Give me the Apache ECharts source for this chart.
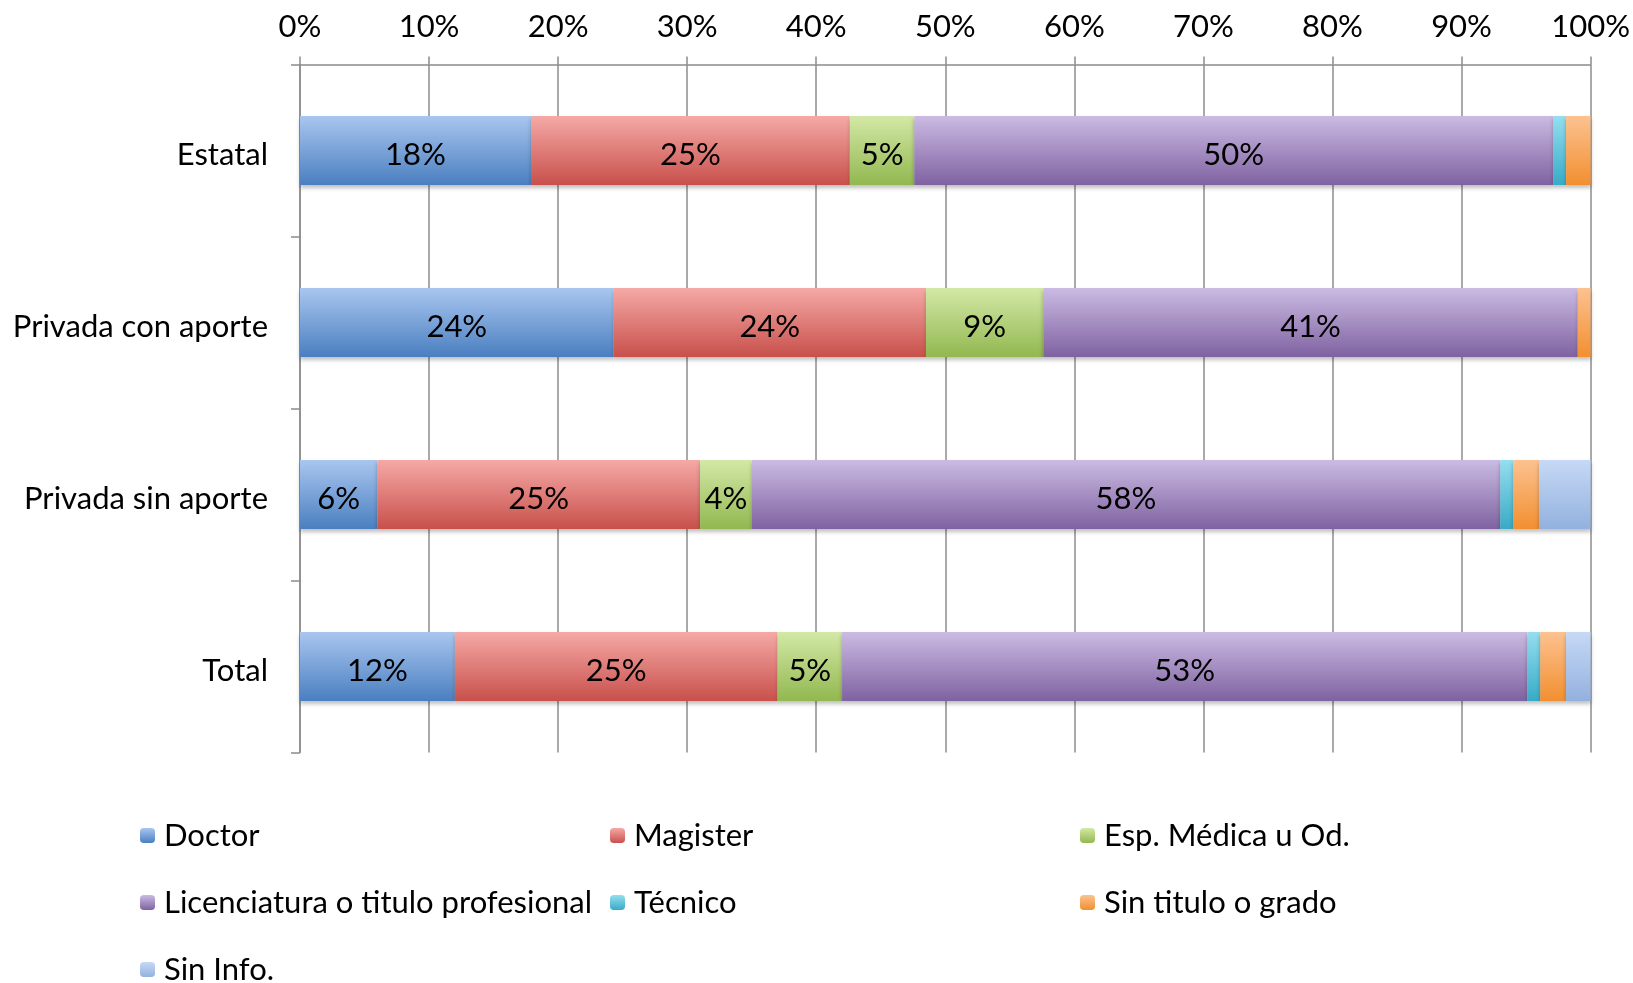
<!DOCTYPE html>
<html>
<head>
<meta charset="utf-8">
<script src="https://cdn.jsdelivr.net/npm/echarts@6/dist/echarts.min.js"></script>
<style>
  html, body { margin: 0; padding: 0; background: #fff; }
  #chart { width: 1633px; height: 983px; }
</style>
</head>
<body>
<div id="chart"></div>
<script>
// categorías (de arriba hacia abajo)
const categories = ['Estatal', 'Privada con aporte', 'Privada sin aporte', 'Total'];

// porcentajes por tipo de título
const doctor      = [17.9, 24.3, 6.0, 12.0];
const magister    = [24.7, 24.2, 25.0, 25.0];
const espMedica   = [5.0, 9.1, 4.0, 5.0];
const licenciatura = [49.5, 41.4, 58.0, 53.1];
const tecnico     = [1.0, 0, 1.0, 1.0];
const sinTitulo   = [1.9, 1.0, 2.0, 2.0];
const sinInfo     = [0, 0, 4.0, 1.9];

const seriesNames = ['Doctor', 'Magister', 'Esp. Médica u Od.', 'Licenciatura o titulo profesional', 'Técnico', 'Sin titulo o grado', 'Sin Info.'];

const FONT = 'Lato, "Open Sans", sans-serif';
const FS = 31;

// degradado vertical tipo Excel Mac
function grad(top, bottom) {
    return new echarts.graphic.LinearGradient(0, 0, 0, 1, [
        { offset: 0, color: top },
        { offset: 1, color: bottom }
    ]);
}

const colors = [
    grad('#a9c6ef', '#4a7fc0'),
    grad('#f5a9a6', '#c8504b'),
    grad('#d3e8a6', '#92b850'),
    grad('#cbbbe3', '#7f62a1'),
    grad('#95def0', '#38abc6'),
    grad('#fcc290', '#f28f30'),
    grad('#c6d9f6', '#93b1de')
];

const dataSets = [doctor, magister, espMedica, licenciatura, tecnico, sinTitulo, sinInfo];

const series = dataSets.map((d, i) => ({
    name: seriesNames[i],
    type: 'bar',
    stack: 'total',
    barWidth: 69,
    data: d,
    itemStyle: {
        color: colors[i],
        shadowColor: 'rgba(0,0,0,0.25)',
        shadowBlur: 4,
        shadowOffsetY: 3
    },
    label: {
        show: i < 4,
        position: 'inside',
        offset: [0, 4],
        color: '#000',
        fontFamily: FONT,
        fontSize: FS,
        formatter: p => Math.round(p.value) + '%'
    },
    emphasis: { disabled: true }
}));

const legendBase = {
    orient: 'vertical',
    top: 815,
    height: 300,
    itemWidth: 15,
    itemHeight: 15,
    itemGap: 36,
    textStyle: { fontFamily: FONT, fontSize: FS, color: '#000', padding: [4, 0, 0, 4] },
    selectedMode: false
};

const chart = echarts.init(document.getElementById('chart'));
chart.setOption({
    animation: false,
    backgroundColor: '#fff',
    grid: { left: 300, right: 42, top: 64.5, height: 688 },
    xAxis: {
        type: 'value',
        position: 'top',
        min: 0,
        max: 100,
        interval: 10,
        axisLine: { show: true, lineStyle: { color: '#8c8c8c', width: 1.5 } },
        axisTick: { show: true, length: 8, lineStyle: { color: '#8c8c8c', width: 1.5 } },
        axisLabel: {
            formatter: '{value}%',
            color: '#000',
            fontFamily: FONT,
            fontSize: FS,
            margin: 22
        },
        splitLine: { show: true, lineStyle: { color: '#8c8c8c', width: 1.5 } }
    },
    yAxis: {
        type: 'category',
        inverse: true,
        data: categories,
        axisLine: { show: true, lineStyle: { color: '#8c8c8c', width: 1.5 } },
        axisTick: { show: true, length: 9, lineStyle: { color: '#8c8c8c', width: 1.5 } },
        axisLabel: {
            margin: 32,
            formatter: v => '{a|' + v + '}',
            rich: { a: { color: '#000', fontFamily: FONT, fontSize: FS, padding: [8, 0, 0, 0] } }
        }
    },
    legend: [
        Object.assign({ left: 135, data: [seriesNames[0], seriesNames[3], seriesNames[6]] }, legendBase),
        Object.assign({ left: 605, data: [seriesNames[1], seriesNames[4]] }, legendBase),
        Object.assign({ left: 1075, data: [seriesNames[2], seriesNames[5]] }, legendBase)
    ],
    series: series
});
</script>
</body>
</html>
